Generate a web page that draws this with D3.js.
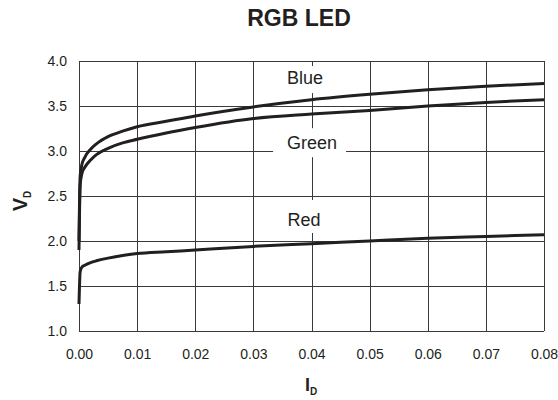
<!DOCTYPE html>
<html>
<head>
<meta charset="utf-8">
<script src="https://cdn.jsdelivr.net/npm/d3@7"></script>
<style>
  body { margin: 0; background: #fff; overflow: hidden; }
  text { font-family: "Liberation Sans", Arial, sans-serif; fill: #231f20; }
</style>
</head>
<body>
<div id="chart"></div>
<script>
const width = 558, height = 400;
const margin = { top: 61, right: 14, bottom: 69, left: 79 };
const innerWidth = width - margin.left - margin.right;
const innerHeight = height - margin.top - margin.bottom;

// current (A) sample points
const current = [0, 0.0002, 0.0005, 0.001, 0.002, 0.003, 0.005, 0.0075, 0.01, 0.015, 0.02, 0.03, 0.04, 0.05, 0.06, 0.07, 0.08];
// forward voltage (V)
const blueV  = [2.0, 2.72, 2.85, 2.93, 3.02, 3.08, 3.16, 3.22, 3.27, 3.33, 3.39, 3.49, 3.57, 3.63, 3.68, 3.72, 3.75];
const greenV = [1.9, 2.62, 2.75, 2.82, 2.90, 2.96, 3.03, 3.09, 3.13, 3.20, 3.26, 3.36, 3.41, 3.45, 3.50, 3.54, 3.57];
const redV   = [1.3, 1.66, 1.71, 1.73, 1.76, 1.78, 1.81, 1.84, 1.86, 1.88, 1.90, 1.94, 1.97, 2.00, 2.03, 2.05, 2.07];

const xTicks = [0, 0.01, 0.02, 0.03, 0.04, 0.05, 0.06, 0.07, 0.08];
const yTicks = [1.0, 1.5, 2.0, 2.5, 3.0, 3.5, 4.0];

const seriesNames = ["Blue", "Green", "Red"];
const seriesValues = [blueV, greenV, redV];
// where the curve names sit (data coords, text baseline)
const labelAt = [[0.0389, 3.744], [0.0401, 3.02], [0.0387, 2.167]];

const svg = d3.select("#chart")
  .append("svg")
    .attr("width", width)
    .attr("height", height);

const innerChart = svg.append("g")
  .attr("transform", `translate(${margin.left}, ${margin.top})`);

const xScale = d3.scaleLinear().domain([0, 0.08]).range([0, innerWidth]);
const yScale = d3.scaleLinear().domain([1, 4]).range([innerHeight, 0]);

// grid
innerChart.append("g")
  .selectAll("line")
  .data(xTicks)
  .join("line")
    .attr("x1", d => Math.round(xScale(d)) + 0.5)
    .attr("x2", d => Math.round(xScale(d)) + 0.5)
    .attr("y1", 0)
    .attr("y2", innerHeight)
    .attr("stroke", "#3a3a3a")
    .attr("stroke-width", 1);

innerChart.append("g")
  .selectAll("line")
  .data(yTicks)
  .join("line")
    .attr("x1", 0)
    .attr("x2", innerWidth)
    .attr("y1", d => Math.round(yScale(d)) + 0.5)
    .attr("y2", d => Math.round(yScale(d)) + 0.5)
    .attr("stroke", "#3a3a3a")
    .attr("stroke-width", 1);

// axes (labels only, grid drawn above)
const bottomAxis = d3.axisBottom(xScale).tickValues(xTicks).tickFormat(d3.format(".2f")).tickSize(0).tickPadding(18);
innerChart.append("g")
  .attr("transform", `translate(0, ${innerHeight})`)
  .call(bottomAxis)
  .call(g => g.select(".domain").remove())
  .call(g => g.attr("font-size", null).attr("font-family", null))
  .selectAll("text")
    .attr("font-size", 14)
    .attr("fill", "#231f20");

const leftAxis = d3.axisLeft(yScale).tickValues(yTicks).tickFormat(d3.format(".1f")).tickSize(0).tickPadding(12);
innerChart.append("g")
  .call(leftAxis)
  .call(g => g.select(".domain").remove())
  .call(g => g.attr("font-size", null).attr("font-family", null))
  .selectAll("text")
    .attr("font-size", 14)
    .attr("fill", "#231f20");

// curves
const line = d3.line()
  .x((d, i) => xScale(current[i]))
  .y(d => yScale(d))
  .curve(d3.curveMonotoneX);

innerChart.selectAll("path.curve")
  .data(seriesValues)
  .join("path")
    .attr("class", "curve")
    .attr("d", line)
    .attr("fill", "none")
    .attr("stroke", "#231f20")
    .attr("stroke-width", 3);

// curve names on white boxes
const boxes = [[-24, -18, 48, 27], [-39, -21, 73, 29], [-23, -26, 46, 33]];
const labels = innerChart.selectAll("g.lbl")
  .data(seriesNames)
  .join("g")
    .attr("class", "lbl")
    .attr("transform", (d, i) => `translate(${xScale(labelAt[i][0])}, ${yScale(labelAt[i][1])})`);

labels.append("rect")
  .attr("x", (d, i) => boxes[i][0])
  .attr("y", (d, i) => boxes[i][1])
  .attr("width", (d, i) => boxes[i][2])
  .attr("height", (d, i) => boxes[i][3])
  .attr("fill", "#fff");

labels.append("text")
  .text(d => d)
  .attr("text-anchor", "middle")
  .attr("font-size", 18);

// title
svg.append("text")
  .text("RGB LED")
  .attr("x", 299)
  .attr("y", 26)
  .attr("text-anchor", "middle")
  .attr("font-size", 23)
  .attr("font-weight", "bold");

// x label I_D
const xLab = svg.append("text")
  .attr("x", 311)
  .attr("y", 391)
  .attr("text-anchor", "middle")
  .attr("font-size", 18)
  .attr("font-weight", "bold");
xLab.append("tspan").text("I");
xLab.append("tspan").text("D").attr("font-size", 10).attr("dy", 4);

// y label V_D
const yLab = svg.append("text")
  .attr("transform", "translate(27, 201) rotate(-90)")
  .attr("text-anchor", "middle")
  .attr("font-size", 20)
  .attr("font-weight", "bold");
yLab.append("tspan").text("V");
yLab.append("tspan").text("D").attr("font-size", 10).attr("dy", 4);
</script>
</body>
</html>
